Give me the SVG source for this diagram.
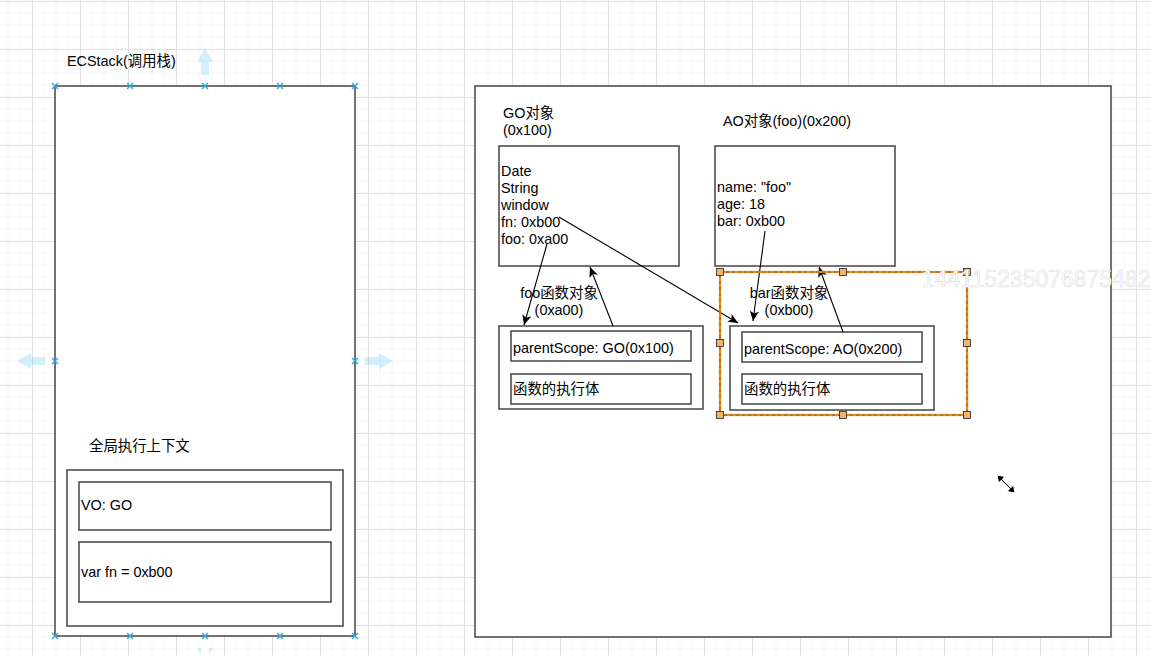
<svg xmlns="http://www.w3.org/2000/svg" width="1151" height="656" viewBox="0 0 1151 656">
<style>
text{font-family:"Liberation Sans","Noto Sans CJK SC",sans-serif;font-size:14.4px;fill:#000}
.box{fill:#fff;stroke:#444;stroke-width:1.5}
.inbox{fill:none;stroke:#444;stroke-width:1.5}
.edge{fill:none;stroke:#000;stroke-width:1.1}
.xm{stroke:#29abe2;stroke-width:1.4;fill:none}
.hover{fill:#29b6f2;opacity:0.2}
.handle{fill:#f5b26b;stroke:#222;stroke-width:0.8}
.wm{font-size:23px;fill:#fff;stroke:#dcdcdc;stroke-width:0.6}
</style>
<defs>
<pattern id="grid" x="32" y="1" width="48" height="48" patternUnits="userSpaceOnUse">
<path d="M12,0V48M24,0V48M36,0V48M0,12H48M0,24H48M0,36H48" stroke="#f6f6f6" stroke-width="1" fill="none"/>
<path d="M0.5,0V48M0,0.5H48" stroke="#e0e0e0" stroke-width="1" fill="none"/>
</pattern>
<marker id="arr" markerUnits="userSpaceOnUse" markerWidth="11" markerHeight="9" refX="10" refY="4.5" orient="auto">
<path d="M0,0 L10,4.5 L0,9 L2.5,4.5 Z" fill="#000"/>
</marker>
</defs>
<rect width="1151" height="656" fill="#fff"/>
<rect width="1151" height="656" fill="url(#grid)"/>

<g id="hover-arrows">
<path class="hover" d="M205,48 L213,62 L209,62 L209,75 L201,75 L201,62 L197,62 Z"/>
<path class="hover" d="M17,361 L31,353 L31,357 L45,357 L45,365 L31,365 L31,369 Z"/>
<path class="hover" d="M393,361 L379,353 L379,357 L365,357 L365,365 L379,365 L379,369 Z"/>
<path class="hover" d="M205,662 L197,648 L201,648 L201,656 L209,656 L209,648 L213,648 Z"/>
</g>

<g id="ecstack-label"><text x="67" y="66">ECStack(调用栈)</text></g>
<g id="ecstack">
<rect class="box" x="55" y="86" width="300" height="550"/>
</g>
<g id="global-ec-label"><text x="89" y="451">全局执行上下文</text></g>
<g id="global-ec">
<rect class="inbox" x="67" y="470" width="276" height="156"/>
</g>
<g id="vo">
<rect class="inbox" x="79" y="482" width="252" height="48"/>
<text x="81" y="510">VO: GO</text>
</g>
<g id="varfn">
<rect class="inbox" x="79" y="542" width="252" height="60"/>
<text x="81" y="577">var fn = 0xb00</text>
</g>
<g id="ecstack-markers">
<path class="xm" d="M52,83l6,6m0-6l-6,6M127,83l6,6m0-6l-6,6M202,83l6,6m0-6l-6,6M277,83l6,6m0-6l-6,6M352,83l6,6m0-6l-6,6M52,358l6,6m0-6l-6,6M352,358l6,6m0-6l-6,6M52,633l6,6m0-6l-6,6M127,633l6,6m0-6l-6,6M202,633l6,6m0-6l-6,6M277,633l6,6m0-6l-6,6M352,633l6,6m0-6l-6,6"/>
</g>

<g id="heap">
<rect class="box" x="475" y="86" width="636" height="551"/>
</g>
<g id="go-label"><text x="503" y="118">GO对象</text><text x="503" y="135">(0x100)</text></g>
<g id="go">
<rect class="inbox" x="499" y="146" width="180" height="120"/>
<text x="501" y="176">Date</text>
<text x="501" y="193">String</text>
<text x="501" y="210">window</text>
<text x="501" y="227">fn: 0xb00</text>
<text x="501" y="244">foo: 0xa00</text>
</g>
<g id="ao-label"><text x="723" y="126">AO对象(foo)(0x200)</text></g>
<g id="ao">
<rect class="inbox" x="715" y="146" width="180" height="120"/>
<text x="717" y="192">name: "foo"</text>
<text x="717" y="209">age: 18</text>
<text x="717" y="226">bar: 0xb00</text>
</g>
<g id="foo-label"><text x="559" y="298" text-anchor="middle">foo函数对象</text><text x="559" y="315" text-anchor="middle">(0xa00)</text></g>
<g id="foo-fn">
<rect class="box" x="499" y="326" width="204" height="83"/>
<rect class="inbox" x="511" y="331" width="180" height="30"/>
<text x="513" y="353">parentScope: GO(0x100)</text>
<rect class="inbox" x="511" y="374" width="180" height="30"/>
<text x="513" y="394">函数的执行体</text>
</g>
<g id="bar-label"><text x="789" y="298" text-anchor="middle">bar函数对象</text><text x="789" y="315" text-anchor="middle">(0xb00)</text></g>
<g id="bar-fn">
<rect class="box" x="730" y="326" width="204" height="84"/>
<rect class="inbox" x="742" y="332" width="180" height="30"/>
<text x="744" y="354">parentScope: AO(0x200)</text>
<rect class="inbox" x="742" y="374" width="180" height="30"/>
<text x="744" y="394">函数的执行体</text>
</g>

<g id="connectors">
<path class="edge" marker-end="url(#arr)" d="M547,244 L524,325"/>
<path class="edge" marker-end="url(#arr)" d="M613,326 L590,267"/>
<path class="edge" marker-end="url(#arr)" d="M559,217 L738,323"/>
<path class="edge" marker-end="url(#arr)" d="M765,231 L753,321"/>
<path class="edge" marker-end="url(#arr)" d="M843,332 L819,267"/>
</g>

<g id="selection">
<rect x="720" y="272" width="247" height="143" fill="none" stroke="#f08705" stroke-width="2.2"/>
<rect x="720" y="272" width="247" height="143" fill="none" stroke="#666" stroke-width="1" stroke-dasharray="3 3"/>
<rect class="handle" x="716.5" y="268.5" width="7" height="7"/>
<rect class="handle" x="839.5" y="268.5" width="7" height="7"/>
<rect class="handle" x="963.5" y="268.5" width="7" height="7"/>
<rect class="handle" x="716.5" y="339.5" width="7" height="7"/>
<rect class="handle" x="963.5" y="339.5" width="7" height="7"/>
<rect class="handle" x="716.5" y="411.5" width="7" height="7"/>
<rect class="handle" x="839.5" y="411.5" width="7" height="7"/>
<rect class="handle" x="963.5" y="411.5" width="7" height="7"/>
</g>

<g id="watermark"><text class="wm" x="922" y="287">144115235076875482</text></g>

<g id="cursor">
<path d="M997,475 L1005,476.5 L1002.3,479.2 L1010.8,487.7 L1013.5,485 L1015,493 L1007,491.5 L1009.7,488.8 L1001.2,480.3 L998.5,483 Z" fill="#000" stroke="#fff" stroke-width="1"/>
</g>
</svg>
